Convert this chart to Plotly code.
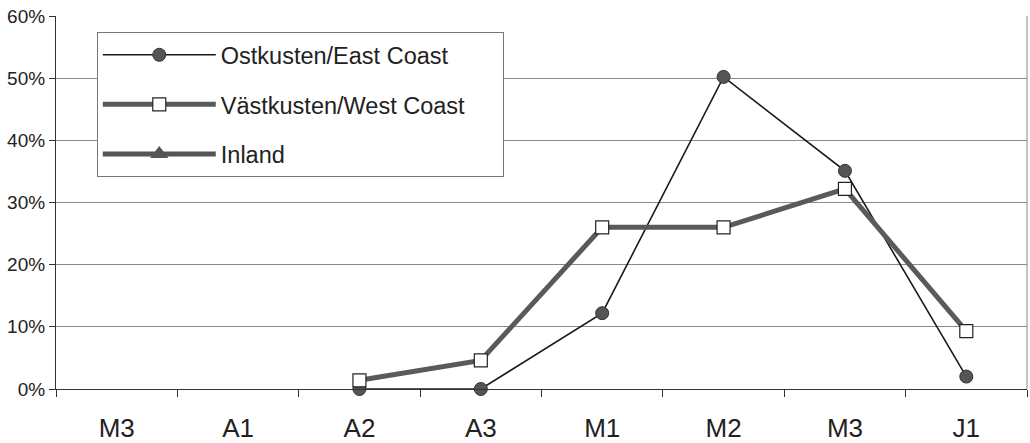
import plotly.graph_objects as go

# Period labels along the x axis (M3 appears twice: two different years)
periods = ["M3", "A1", "A2", "A3", "M1", "M2", "M3", "J1"]
positions = list(range(len(periods)))

# Share of observations per period (%)
east_coast = [None, None, 0.0, 0.0, 12.2, 50.2, 35.1, 2.0]
west_coast = [None, None, 1.4, 4.6, 26.0, 26.0, 32.2, 9.3]
inland = [None, None, None, None, None, None, None, None]

y_ticks = [0, 10, 20, 30, 40, 50, 60]

FONT = "Liberation Sans, Arial, sans-serif"
TEXT = "#222222"
PAD = "\u00a0" * 5  # widens the legend box on the right

fig = go.Figure()

fig.add_trace(go.Scatter(
    x=positions, y=east_coast, name="Ostkusten/East Coast",
    mode="lines+markers", legendgroup="e", cliponaxis=False,
    line=dict(color="#1a1a1a", width=1.6),
    marker=dict(symbol="circle", size=13, color="#555555",
                line=dict(color="#333333", width=1)),
))
fig.add_trace(go.Scatter(
    x=positions, y=west_coast, name="Västkusten/West Coast" + PAD,
    mode="lines+markers", legendgroup="w", cliponaxis=False,
    line=dict(color="#5a5a5a", width=5),
    marker=dict(symbol="square", size=13, color="white",
                line=dict(color="#222222", width=1.2)),
))
fig.add_trace(go.Scatter(
    x=positions, y=inland, name="Inland",
    mode="lines+markers", legendgroup="i", cliponaxis=False,
    line=dict(color="#555555", width=5),
    marker=dict(symbol="triangle-up", size=18, color="#555555"),
))

fig.update_layout(
    width=1030, height=443,
    margin=dict(l=56, r=3, t=16, b=54),
    paper_bgcolor="white", plot_bgcolor="white",
    font=dict(family=FONT, color=TEXT),
    showlegend=True,
    legend=dict(
        x=0.042, y=0.957, xanchor="left", yanchor="top",
        bordercolor="#777777", borderwidth=1, bgcolor="white",
        font=dict(size=23.5, family=FONT, color=TEXT),
        itemwidth=113, traceorder="grouped", tracegroupgap=16,
    ),
    xaxis=dict(
        range=[-0.5, len(periods) - 0.5], automargin=False,
        tickmode="array", tickvals=positions, ticktext=periods,
        ticks="", tickfont=dict(size=26, family=FONT, color=TEXT),
        ticklabelstandoff=16,
        showgrid=False, zeroline=False,
        showline=True, linecolor="#333333", linewidth=1.2,
        minor=dict(tickmode="array",
                   tickvals=[p - 0.5 for p in positions] + [len(periods) - 0.5],
                   ticks="outside", ticklen=7, tickcolor="#333333",
                   showgrid=False),
    ),
    yaxis=dict(
        range=[0, 60], tickmode="array", tickvals=y_ticks, automargin=False,
        ticktext=[f"{v}%" for v in y_ticks],
        ticks="outside", ticklen=6, tickcolor="#333333",
        tickfont=dict(size=19, family=FONT, color=TEXT),
        showgrid=True, gridcolor="#8a8a8a", gridwidth=1,
        zeroline=False,
        showline=True, linecolor="#333333", linewidth=1.2,
    ),
)

# right-hand frame of the plot area
fig.add_shape(type="line", xref="paper", yref="paper",
              x0=1, x1=1, y0=0, y1=1,
              line=dict(color="#8a8a8a", width=1))

fig.write_html("out.html")
